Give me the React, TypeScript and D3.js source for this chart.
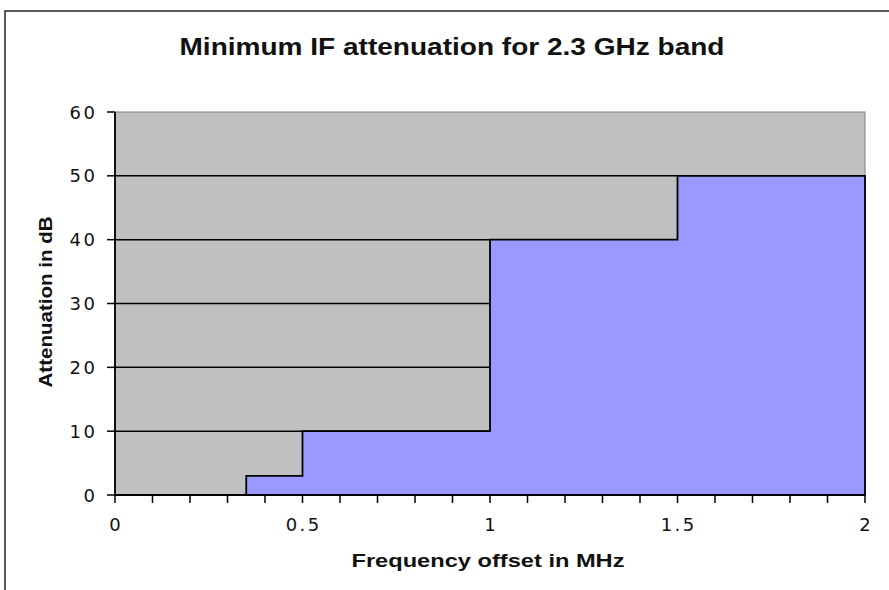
import React, { useEffect, useRef } from "react";
import * as d3 from "d3";

// step edges of the attenuation mask (MHz, dB)
const offsets = [0.35, 0.5, 1, 1.5, 2];
const attenuation = [3, 10, 40, 50, 50];
const yTicks = [0, 10, 20, 30, 40, 50, 60];
const xLabels = [0, 0.5, 1, 1.5, 2];
const xMinor = [0, 0.1, 0.2, 0.3, 0.4, 0.5, 0.6, 0.7, 0.8, 0.9, 1, 1.1, 1.2, 1.3, 1.4, 1.5, 1.6, 1.7, 1.8, 1.9, 2];

const App = () => {
  const svgRef = useRef<SVGSVGElement>(null);

  useEffect(() => {
    const width = 889;
    const height = 590;
    const left = 115, right = 865, top = 112, bottom = 495;
    const tickFont = "DejaVu Sans, Verdana, sans-serif";
    const ls = 2.5;

    const svg = d3.select(svgRef.current);
    svg.selectAll("*").remove();
    svg.attr("width", width).attr("height", height);

    const x = d3.scaleLinear().domain([0, 2]).range([left, right]);
    const y = d3.scaleLinear().domain([0, 60]).range([bottom, top]);

    svg.append("rect").attr("width", width).attr("height", height).attr("fill", "#fff");

    // outer chart frame (cut off at right and bottom)
    svg.append("path")
      .attr("d", `M5,${height + 2} L5,11 L${width + 2},11`)
      .attr("fill", "none")
      .attr("stroke", "#222")
      .attr("stroke-width", 1.5);

    // plot area
    svg.append("rect")
      .attr("x", left).attr("y", top)
      .attr("width", right - left).attr("height", bottom - top)
      .attr("fill", "#c0c0c0")
      .attr("stroke", "#808080")
      .attr("stroke-width", 1);

    // gridlines
    svg.append("g")
      .selectAll("line")
      .data(yTicks.filter((d) => d > 0 && d < 60))
      .enter()
      .append("line")
      .attr("x1", left).attr("x2", right)
      .attr("y1", (d) => y(d)).attr("y2", (d) => y(d))
      .attr("stroke", "#000")
      .attr("stroke-width", 1.5);

    const pts = offsets.map((o, i) => [o, attenuation[i]] as [number, number]);

    const area = d3.area<[number, number]>()
      .x((d) => x(d[0]))
      .y0(y(0))
      .y1((d) => y(d[1]))
      .curve(d3.curveStepAfter);

    svg.append("path")
      .datum(pts)
      .attr("d", area)
      .attr("fill", "#9999ff")
      .attr("stroke", "#000")
      .attr("stroke-width", 1.8)
      .attr("stroke-linejoin", "miter");

    // axes lines
    svg.append("line")
      .attr("x1", left).attr("x2", left).attr("y1", top).attr("y2", bottom)
      .attr("stroke", "#000").attr("stroke-width", 1.8);
    svg.append("line")
      .attr("x1", left).attr("x2", right).attr("y1", bottom).attr("y2", bottom)
      .attr("stroke", "#000").attr("stroke-width", 1.8);

    // y ticks
    const yg = svg.append("g");
    yg.selectAll("line")
      .data(yTicks)
      .enter()
      .append("line")
      .attr("x1", left - 8).attr("x2", left)
      .attr("y1", (d) => y(d)).attr("y2", (d) => y(d))
      .attr("stroke", "#000").attr("stroke-width", 1.5);
    yg.selectAll("text")
      .data(yTicks)
      .enter()
      .append("text")
      .attr("x", 95 + ls)
      .attr("y", (d) => y(d) + 6.5)
      .attr("text-anchor", "end")
      .attr("font-family", tickFont)
      .attr("font-size", 18)
      .attr("letter-spacing", ls)
      .attr("fill", "#111")
      .text((d) => d);

    // x ticks
    const xg = svg.append("g");
    xg.selectAll("line")
      .data(xMinor)
      .enter()
      .append("line")
      .attr("x1", (d) => x(d)).attr("x2", (d) => x(d))
      .attr("y1", bottom).attr("y2", bottom + 8)
      .attr("stroke", "#000").attr("stroke-width", 1.5);
    xg.selectAll("text")
      .data(xLabels)
      .enter()
      .append("text")
      .attr("x", (d) => x(d) + ls / 2)
      .attr("y", 531)
      .attr("text-anchor", "middle")
      .attr("font-family", tickFont)
      .attr("font-size", 18)
      .attr("letter-spacing", ls)
      .attr("fill", "#111")
      .text((d) => d);

    // titles
    svg.append("text")
      .attr("x", 452).attr("y", 55)
      .attr("text-anchor", "middle")
      .attr("font-family", "Liberation Sans, Arial, sans-serif")
      .attr("font-weight", "bold")
      .attr("font-size", 24)
      .attr("textLength", 545)
      .attr("lengthAdjust", "spacingAndGlyphs")
      .attr("fill", "#111")
      .text("Minimum IF attenuation for 2.3 GHz band");

    svg.append("text")
      .attr("x", 488).attr("y", 567)
      .attr("text-anchor", "middle")
      .attr("font-family", "Liberation Sans, Arial, sans-serif")
      .attr("font-weight", "bold")
      .attr("font-size", 18)
      .attr("textLength", 273)
      .attr("lengthAdjust", "spacingAndGlyphs")
      .attr("fill", "#111")
      .text("Frequency offset in MHz");

    svg.append("text")
      .attr("transform", "translate(52,302) rotate(-90)")
      .attr("text-anchor", "middle")
      .attr("font-family", "Liberation Sans, Arial, sans-serif")
      .attr("font-weight", "bold")
      .attr("font-size", 18)
      .attr("textLength", 171)
      .attr("lengthAdjust", "spacingAndGlyphs")
      .attr("fill", "#111")
      .text("Attenuation in dB");
  }, []);

  return (
    <div style={{ position: "absolute", left: 0, top: 0 }}>
      <svg ref={svgRef} style={{ display: "block" }}></svg>
    </div>
  );
};

export default App;
